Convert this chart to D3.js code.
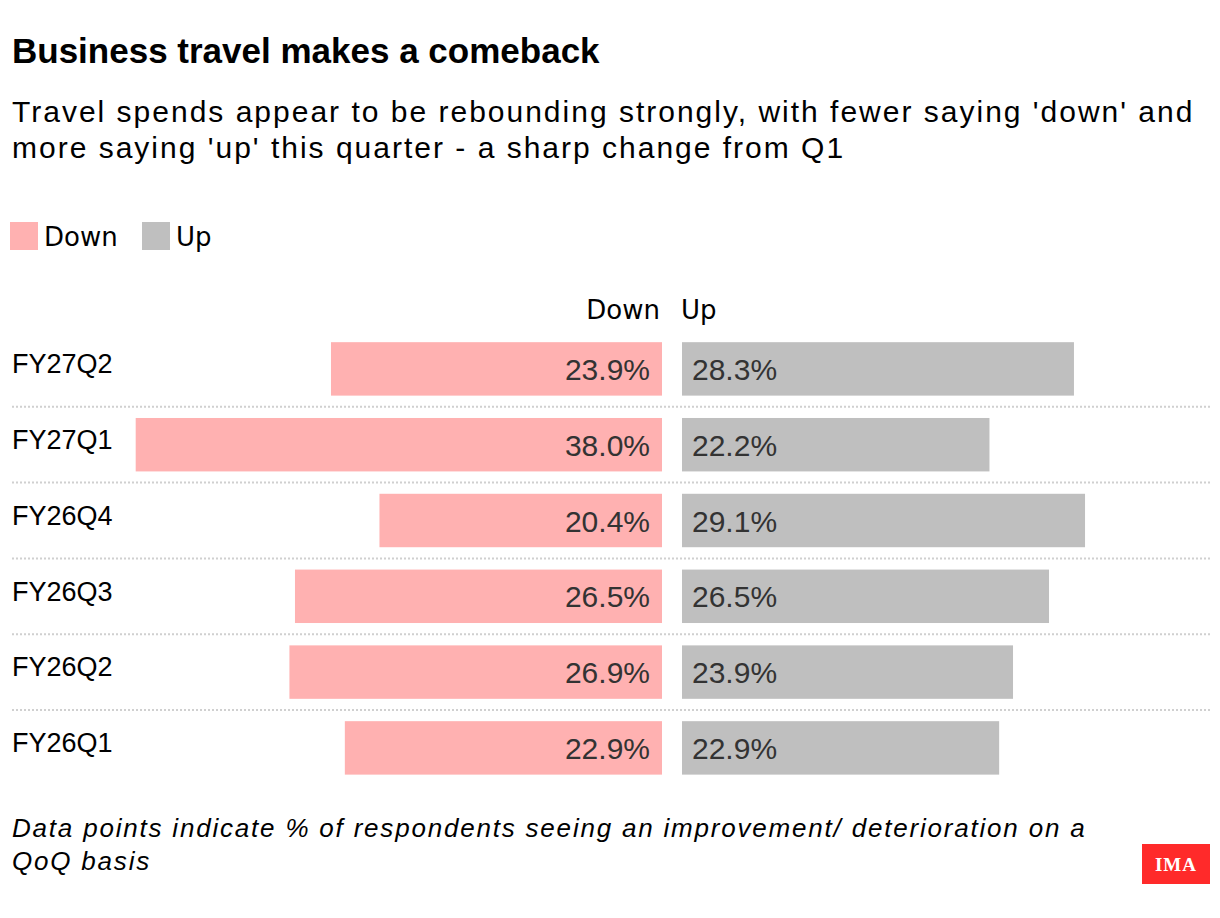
<!DOCTYPE html>
<html>
<head>
<meta charset="utf-8">
<script src="https://cdn.jsdelivr.net/npm/d3@7"></script>
<style>
  body { margin: 0; background: #fff; }
  svg text { font-family: "Liberation Sans", Arial, sans-serif; }
</style>
</head>
<body>
<div id="chart"></div>
<script>
// Data
var quarters = ["FY27Q2", "FY27Q1", "FY26Q4", "FY26Q3", "FY26Q2", "FY26Q1"];
var downValues = [23.9, 38.0, 20.4, 26.5, 26.9, 22.9];
var upValues = [28.3, 22.2, 29.1, 26.5, 23.9, 22.9];
var seriesNames = ["Down", "Up"];
var seriesColors = ["#ffb1b1", "#bfbfbf"];

var titleText = "Business travel makes a comeback";
var subtitleLines = [
  "Travel spends appear to be rebounding strongly, with fewer saying 'down' and",
  "more saying 'up' this quarter - a sharp change from Q1"
];
var noteLines = [
  "Data points indicate % of respondents seeing an improvement/ deterioration on a",
  "QoQ basis"
];

var width = 1220, height = 918;
var centerLeft = 662, centerRight = 682;

var svg = d3.select("#chart")
            .append("svg")
            .attr("width", width)
            .attr("height", height);

// Title + subtitle
svg.append("text")
   .attr("x", 12).attr("y", 63)
   .style("font-size", "35px")
   .style("font-weight", "bold")
   .text(titleText);

svg.selectAll("text.subtitle")
   .data(subtitleLines)
   .enter()
   .append("text")
   .attr("class", "subtitle")
   .attr("x", 12)
   .attr("y", function(d, i) { return 122 + i * 36; })
   .style("font-size", "30px")
   .style("letter-spacing", "2px")
   .text(function(d) { return d; });

// Legend
var legend = svg.selectAll("g.legend")
                .data(seriesNames)
                .enter()
                .append("g")
                .attr("class", "legend")
                .attr("transform", function(d, i) { return "translate(" + (10 + i * 132) + ",222)"; });

legend.append("rect")
      .attr("width", 28).attr("height", 28)
      .style("fill", function(d, i) { return seriesColors[i]; });

legend.append("text")
      .attr("x", 34).attr("y", 24)
      .style("font-family", "'DejaVu Sans', sans-serif")
      .style("font-size", "26px")
      .text(function(d) { return d; });

// Scales
var xScale = d3.scaleLinear()
  .domain([0, 40])
  .range([0, 554]);

var yScale = d3.scaleBand()
  .domain(quarters)
  .range([331, 331 + 6 * 75.8])
  .paddingInner(0.295)
  .paddingOuter(0.1475);

// Column headers
svg.append("text")
   .attr("x", centerLeft - 2).attr("y", 319)
   .attr("text-anchor", "end")
   .style("font-family", "'DejaVu Sans', sans-serif")
   .style("font-size", "26px")
   .text(seriesNames[0]);

svg.append("text")
   .attr("x", centerRight - 1).attr("y", 319)
   .style("font-family", "'DejaVu Sans', sans-serif")
   .style("font-size", "26px")
   .text(seriesNames[1]);

// Dotted separators between rows
svg.selectAll("line.sep")
   .data(quarters.slice(1))
   .enter()
   .append("line")
   .attr("class", "sep")
   .attr("x1", 12).attr("x2", 1210)
   .attr("y1", function(d) { return yScale(d) - (yScale.step() - yScale.bandwidth()) / 2; })
   .attr("y2", function(d) { return yScale(d) - (yScale.step() - yScale.bandwidth()) / 2; })
   .style("stroke", "#d0d0d0")
   .style("stroke-width", 2)
   .style("stroke-dasharray", "2,2");

var rows = svg.selectAll("g.row")
              .data(quarters)
              .enter()
              .append("g")
              .attr("class", "row");

// Row labels
rows.append("text")
    .attr("x", 12)
    .attr("y", function(d) { return yScale(d) + 31; })
    .style("font-size", "27px")
    .text(function(d) { return d; });

// Down bars
rows.append("rect")
    .attr("x", function(d, i) { return centerLeft - xScale(downValues[i]); })
    .attr("y", function(d) { return yScale(d); })
    .attr("width", function(d, i) { return xScale(downValues[i]); })
    .attr("height", yScale.bandwidth())
    .style("fill", seriesColors[0]);

// Up bars
rows.append("rect")
    .attr("x", centerRight)
    .attr("y", function(d) { return yScale(d); })
    .attr("width", function(d, i) { return xScale(upValues[i]); })
    .attr("height", yScale.bandwidth())
    .style("fill", seriesColors[1]);

// Value labels
rows.append("text")
    .attr("x", centerLeft - 12)
    .attr("y", function(d) { return yScale(d) + yScale.bandwidth() / 2 + 11; })
    .attr("text-anchor", "end")
    .style("font-size", "30px")
    .style("fill", "#333")
    .text(function(d, i) { return downValues[i].toFixed(1) + "%"; });

rows.append("text")
    .attr("x", centerRight + 10)
    .attr("y", function(d) { return yScale(d) + yScale.bandwidth() / 2 + 11; })
    .style("font-size", "30px")
    .style("fill", "#333")
    .text(function(d, i) { return upValues[i].toFixed(1) + "%"; });

// Footnote
svg.selectAll("text.note")
   .data(noteLines)
   .enter()
   .append("text")
   .attr("class", "note")
   .attr("x", 12)
   .attr("y", function(d, i) { return 837 + i * 33; })
   .style("font-size", "26px")
   .style("font-style", "italic")
   .style("letter-spacing", "1.8px")
   .text(function(d) { return d; });

// IMA logo
svg.append("rect")
   .attr("x", 1142).attr("y", 844)
   .attr("width", 68).attr("height", 40)
   .style("fill", "#ff2a2a");

svg.append("text")
   .attr("x", 1176).attr("y", 871)
   .attr("text-anchor", "middle")
   .style("font-family", "'Liberation Serif', serif")
   .style("font-size", "19px")
   .style("font-weight", "bold")
   .style("letter-spacing", "1px")
   .style("fill", "#fff")
   .text("IMA");
</script>
</body>
</html>
